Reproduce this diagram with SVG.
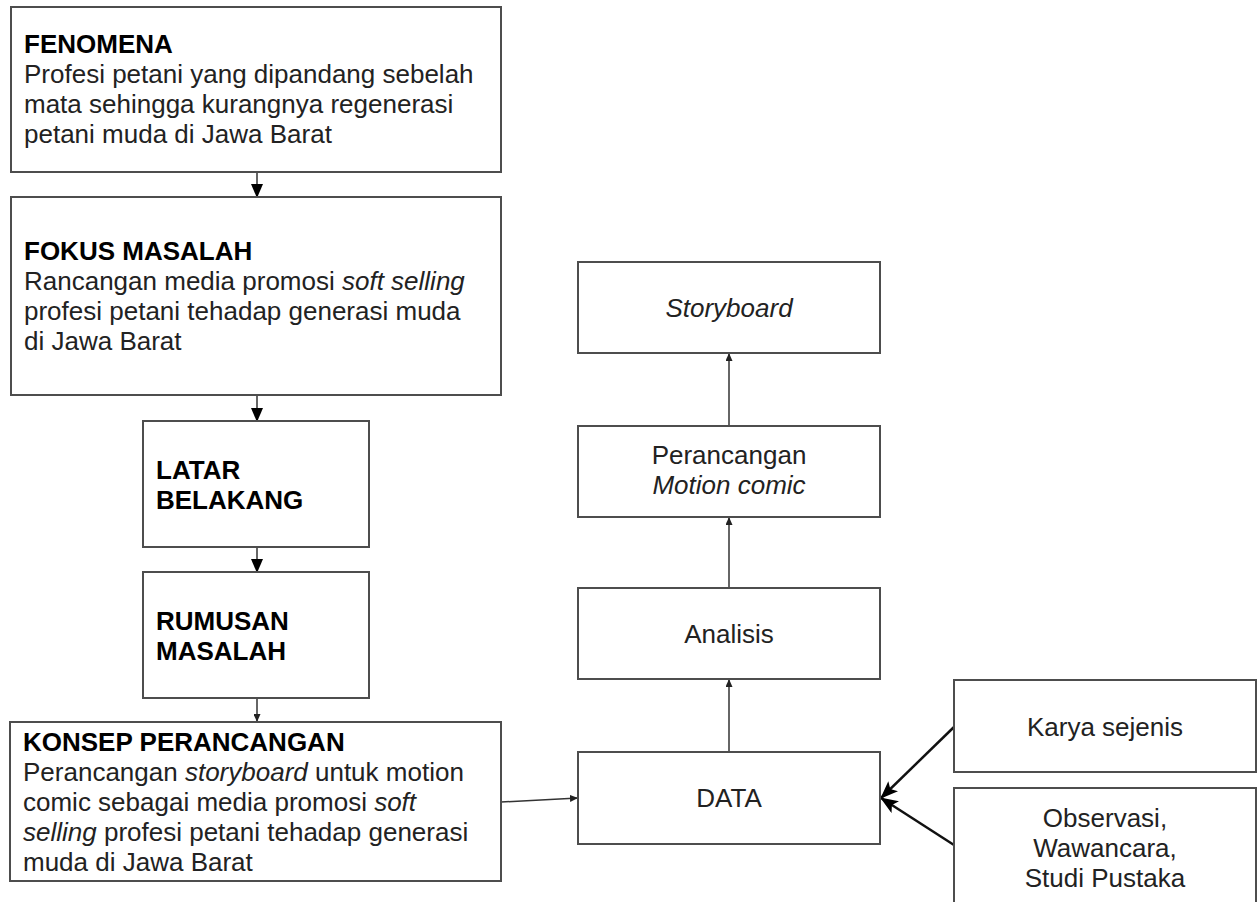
<svg xmlns="http://www.w3.org/2000/svg" width="1257" height="902" viewBox="0 0 1257 902">
<defs>
<style>
.box{fill:#fff;stroke:#4d4d4d;stroke-width:2}
.t{font-family:"Liberation Sans",Arial,sans-serif;font-size:26px;fill:#222}
.b{font-weight:bold;fill:#000}
.c{text-anchor:middle}
.i{font-style:italic}
.ln{fill:none;stroke:#333;stroke-width:1.5}
.lnb{fill:none;stroke:#111;stroke-width:2.5}
</style>
<marker id="big" markerUnits="userSpaceOnUse" markerWidth="14" markerHeight="12" refX="13" refY="6" orient="auto"><path d="M0,0 L14,6 L0,12 z" fill="#000"/></marker>
<marker id="small" markerUnits="userSpaceOnUse" markerWidth="8" markerHeight="7" refX="8" refY="3.5" orient="auto"><path d="M0,0 L8,3.5 L0,7 z" fill="#222"/></marker>
<marker id="wide" markerUnits="userSpaceOnUse" markerWidth="18" markerHeight="14" refX="17" refY="7" orient="auto"><path d="M0,0 L18,7 L0,14 L4,7 z" fill="#000"/></marker>
</defs>
<rect width="1257" height="902" fill="#fff"/>
<g id="connectors">
<line class="ln" x1="257" y1="172" x2="257" y2="197" marker-end="url(#big)"/>
<line class="ln" x1="257" y1="395" x2="257" y2="421" marker-end="url(#big)"/>
<line class="ln" x1="257" y1="547" x2="257" y2="572" marker-end="url(#big)"/>
<line class="ln" x1="257" y1="698" x2="257" y2="722" marker-end="url(#small)"/>
<line class="ln" x1="501" y1="802" x2="578" y2="798" marker-end="url(#small)"/>
<line class="ln" x1="729" y1="752" x2="729" y2="679" marker-end="url(#small)"/>
<line class="ln" x1="729" y1="588" x2="729" y2="517" marker-end="url(#small)"/>
<line class="ln" x1="729" y1="426" x2="729" y2="353" marker-end="url(#small)"/>
<line class="lnb" x1="954" y1="727" x2="881" y2="798" marker-end="url(#wide)"/>
<line class="lnb" x1="954" y1="845" x2="881" y2="798" marker-end="url(#wide)"/>
</g>
<g id="fenomena">
<rect class="box" x="11" y="7" width="490" height="165"/>
<text class="t b" x="24" y="53">FENOMENA</text>
<text class="t" x="24" y="83">Profesi petani yang dipandang sebelah</text>
<text class="t" x="24" y="113">mata sehingga kurangnya regenerasi</text>
<text class="t" x="24" y="143">petani muda di Jawa Barat</text>
</g>
<g id="fokus">
<rect class="box" x="11" y="197" width="490" height="198"/>
<text class="t b" x="24" y="260">FOKUS MASALAH</text>
<text class="t" x="24" y="290">Rancangan media promosi <tspan class="i">soft selling</tspan></text>
<text class="t" x="24" y="320">profesi petani tehadap generasi muda</text>
<text class="t" x="24" y="350">di Jawa Barat</text>
</g>
<g id="latar">
<rect class="box" x="143" y="421" width="226" height="126"/>
<text class="t b" x="156" y="479">LATAR</text>
<text class="t b" x="156" y="509">BELAKANG</text>
</g>
<g id="rumusan">
<rect class="box" x="143" y="572" width="226" height="126"/>
<text class="t b" x="156" y="630">RUMUSAN</text>
<text class="t b" x="156" y="660">MASALAH</text>
</g>
<g id="konsep">
<rect class="box" x="10" y="722" width="491" height="159"/>
<text class="t b" x="23" y="751">KONSEP PERANCANGAN</text>
<text class="t" x="23" y="781">Perancangan <tspan class="i">storyboard</tspan> untuk motion</text>
<text class="t" x="23" y="811">comic sebagai media promosi <tspan class="i">soft</tspan></text>
<text class="t" x="23" y="841"><tspan class="i">selling</tspan> profesi petani tehadap generasi</text>
<text class="t" x="23" y="871">muda di Jawa Barat</text>
</g>
<g id="storyboard">
<rect class="box" x="578" y="262" width="302" height="91"/>
<text class="t c i" x="729" y="317">Storyboard</text>
</g>
<g id="perancangan">
<rect class="box" x="578" y="426" width="302" height="91"/>
<text class="t c" x="729" y="464">Perancangan</text>
<text class="t c i" x="729" y="494">Motion comic</text>
</g>
<g id="analisis">
<rect class="box" x="578" y="588" width="302" height="91"/>
<text class="t c" x="729" y="643">Analisis</text>
</g>
<g id="data">
<rect class="box" x="578" y="752" width="302" height="92"/>
<text class="t c" x="729" y="807">DATA</text>
</g>
<g id="karya">
<rect class="box" x="954" y="680" width="302" height="92"/>
<text class="t c" x="1105" y="736">Karya sejenis</text>
</g>
<g id="observasi">
<rect class="box" x="954" y="788" width="302" height="130"/>
<text class="t c" x="1105" y="827">Observasi,</text>
<text class="t c" x="1105" y="857">Wawancara,</text>
<text class="t c" x="1105" y="887">Studi Pustaka</text>
</g>
</svg>
